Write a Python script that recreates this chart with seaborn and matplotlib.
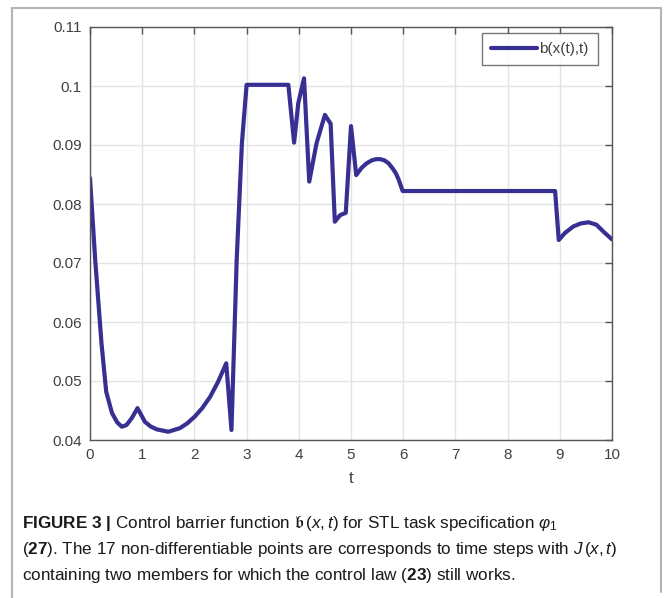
import numpy as np
import pandas as pd
import seaborn as sns
import matplotlib.pyplot as plt
from matplotlib.lines import Line2D

# values
t = [0.0, 0.10, 0.22, 0.31, 0.42, 0.52, 0.61, 0.70, 0.80, 0.91, 1.05, 1.16, 1.28,
     1.50, 1.72, 1.86, 2.01, 2.15, 2.30, 2.45, 2.61, 2.71, 2.81, 2.91, 3.00, 3.80,
     3.91, 3.99, 4.10, 4.20, 4.34, 4.50, 4.61, 4.69, 4.79, 4.90, 5.00, 5.10, 5.20,
     5.30, 5.40, 5.48, 5.56, 5.64, 5.72, 5.80, 5.86, 5.91, 5.99, 8.91, 8.98, 9.10,
     9.26, 9.40, 9.55, 9.70, 9.77, 9.85, 10.0]
b = [0.0844, 0.0705, 0.0564, 0.0482, 0.0446, 0.0430, 0.04225, 0.04254, 0.0437,
     0.0454, 0.0431, 0.0423, 0.0418, 0.0414, 0.0420, 0.0428, 0.0440, 0.0454,
     0.0473, 0.0498, 0.0530, 0.0417, 0.0705, 0.0903, 0.1002, 0.1002, 0.0904,
     0.0971, 0.1013, 0.0838, 0.0903, 0.0951, 0.0936, 0.0770, 0.0781, 0.0785,
     0.0932, 0.0849, 0.0861, 0.0869, 0.0874, 0.0876, 0.0876, 0.0874, 0.0869,
     0.0860, 0.0852, 0.0842, 0.0822, 0.0822, 0.0739, 0.0751, 0.0762, 0.0767,
     0.0769, 0.0765, 0.0759, 0.0752, 0.0740]
xticks = list(range(0, 11))
yticks = [0.04, 0.05, 0.06, 0.07, 0.08, 0.09, 0.1, 0.11]

df = pd.DataFrame({"t": t, "b": b})

sns.set_style("white")
plt.rcParams['font.family'] = ['Liberation Sans', 'DejaVu Sans']
plt.rcParams['mathtext.fontset'] = 'custom'
plt.rcParams['mathtext.rm'] = 'Liberation Sans'
plt.rcParams['mathtext.it'] = 'Liberation Sans:italic'
plt.rcParams['mathtext.bf'] = 'Liberation Sans:bold'

fig = plt.figure(figsize=(6.64, 5.98), dpi=100)
ax = fig.add_axes([90 / 664, 1 - 440 / 598, 522 / 664, 413 / 598])

sns.lineplot(data=df, x="t", y="b", ax=ax, color="#382f92", lw=3.0,
             label="b(x(t),t)")

ax.set_xlim(0, 10)
ax.set_ylim(0.04, 0.11)
ax.set_xticks(xticks)
ax.set_yticks(yticks)
ax.set_xticklabels([str(v) for v in xticks])
ax.set_yticklabels(["%g" % v for v in yticks])
ax.grid(True, color="#e3e3e3", lw=1)
ax.tick_params(direction="in", length=5, width=1, color="#555555",
               labelcolor="#404040", labelsize=11, top=True, right=True, pad=6)
for s in ax.spines.values():
    s.set_color("#555555")
    s.set_linewidth(1)
ax.set_xlabel("t", fontsize=12, color="#404040", labelpad=6)
ax.set_ylabel("")

leg = ax.legend(loc="upper right", bbox_to_anchor=(598 / 664, 1 - 33 / 598),
                bbox_transform=fig.transFigure, fontsize=11, frameon=True,
                fancybox=False, handlelength=3.0, handletextpad=0.15,
                borderaxespad=0, borderpad=0.6)
leg.get_frame().set_edgecolor("#555555")
leg.get_frame().set_linewidth(1)
for txt in leg.get_texts():
    txt.set_color("#404040")

# outer grey frame
for xs, ys in [([12, 12], [598, 8]), ([12, 661], [8, 8]), ([661, 661], [8, 592])]:
    fig.add_artist(Line2D([x / 664 for x in xs], [1 - y / 598 for y in ys],
                          color="#b5b5b5", lw=1.5))

cap = dict(fontsize=12.3, color="#1a1a1a", va="baseline", ha="left")
fig.text(22 / 664, 1 - 528 / 598,
         r"$\bf{FIGURE\ 3\ |}$ Control barrier function $\mathfrak{b}\,(x, t)$"
         r" for STL task specification $\varphi_1$", **cap)
fig.text(22 / 664, 1 - 554 / 598,
         r"($\bf{27}$). The 17 non-differentiable points are corresponds to time steps with $J\,(x, t)$",
         **cap)
fig.text(22 / 664, 1 - 580 / 598,
         r"containing two members for which the control law ($\bf{23}$) still works.", **cap)

fig.savefig("out.png", dpi=100)
